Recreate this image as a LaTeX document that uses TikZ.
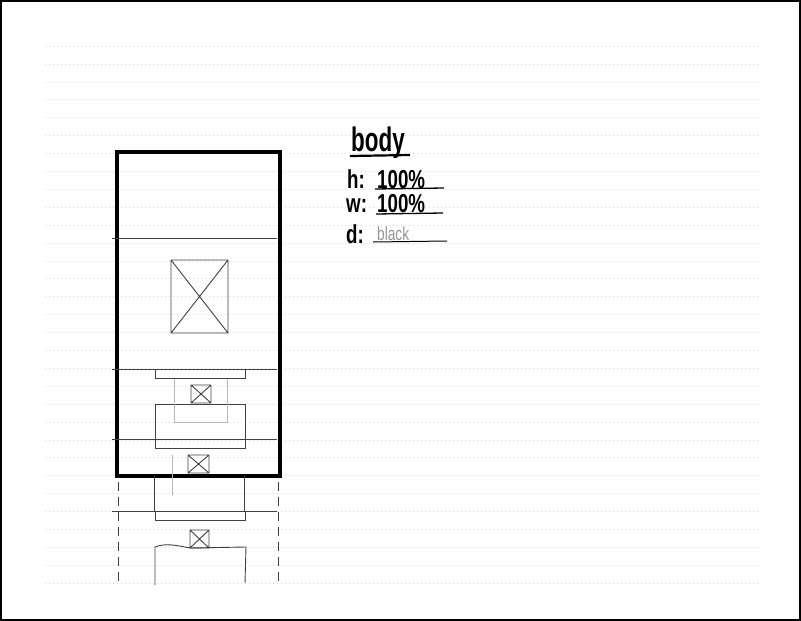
\documentclass[tikz,border=0pt]{standalone}
\usepackage{fontspec}
\setsansfont{Liberation Sans}
\newcommand\xbox[4]{\draw[pen] (#1,#2) rectangle (#3,#4) (#1,#2) -- (#3,#4) (#1,#4) -- (#3,#2);}
\begin{document}
\begin{tikzpicture}[x=1pt,y=-1pt,
  rule/.style={gray!30,line width=0.6pt,dash pattern=on 1pt off 3pt},
  pen/.style={black!75,line width=0.9pt},
  faint/.style={gray!55,line width=0.7pt},
  frame/.style={line width=4pt},
  note/.style={font=\sffamily\bfseries\fontsize{26}{28}\selectfont,inner sep=0pt,anchor=base west},
  under/.style={line width=1.3pt}]
\useasboundingbox (0,0) rectangle (801,621);
\draw[line width=2pt] (1,1) rectangle (800,620);
\foreach \i in {0,...,30} { \draw[rule] (45,46+17.9*\i) -- (760,46+17.9*\i); }
% page frame and its overflow below
\draw[frame] (117,152) rectangle (280,476);
\foreach \x in {118,278} { \draw[pen,dash pattern=on 9pt off 6pt] (\x,482) -- (\x,582); }
% row separators
\foreach \y in {238,369,439,511} { \draw[pen] (112,\y) -- (277,\y); }
% picture block
\xbox{171}{260}{228}{333}
% bars and blocks
\foreach \y in {369,439,511} { \draw[pen] (155,\y) rectangle (245,\y+9.5); }
\draw[pen] (155,404) rectangle (245,439);
\draw[pen] (154,476) -- (154,511) (244,476) -- (244,511);
\draw[pen] (155,585) -- (155,547) .. controls (165,543) and (175,545) .. (190,548) -- (246,547) -- (245,583);
% thin inner column
\draw[faint] (174,379) -- (174,422) -- (227,422) -- (227,379);
\draw[faint] (172,455) -- (172,495);
% small icons
\xbox{191}{385}{211}{403}
\xbox{188}{455}{209}{473}
\xbox{190}{530}{209}{548}
% notes
\node[note,font=\sffamily\bfseries\fontsize{34}{36}\selectfont] (title) at (351,151) {\scalebox{0.66}[1]{body}};
\draw[under,line width=2.2pt] (350,156) -- (410,155);
\node[note] (hkey) at (347,188) {\scalebox{0.72}[1]{h:}};
\node[note] (hval) at (377,188) {\scalebox{0.72}[1]{100\%}};
\draw[under] (375,189) -- (444,188);
\node[note] (wkey) at (346,212) {\scalebox{0.72}[1]{w:}};
\node[note] (wval) at (377,212) {\scalebox{0.72}[1]{100\%}};
\draw[under] (376,214) -- (443,213);
\node[note] (dkey) at (346,243) {\scalebox{0.72}[1]{d:}};
\node[note,font=\sffamily\fontsize{19}{21}\selectfont,text=gray!85] (dval) at (377,240) {\scalebox{0.72}[1]{black}};
\draw[under,line width=1pt] (373,242) -- (447,241);
\end{tikzpicture}
\end{document}
